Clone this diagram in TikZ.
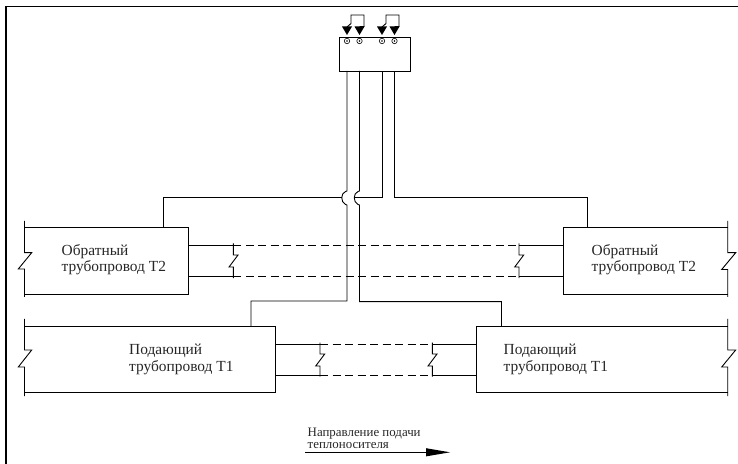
\documentclass[tikz,border=0pt]{standalone}
\usepackage{fontspec}
\setmainfont{Liberation Serif}
\tikzset{
  x=1bp,y=-1bp,
  ln/.style={line width=0.9bp,line join=miter},
  dsh/.style={ln,dash pattern=on 8bp off 4.5bp},
  lab/.style={anchor=base west,inner sep=0pt,font=\fontsize{15.4bp}{17bp}\selectfont,text=black!85},
  small/.style={anchor=base west,inner sep=0pt,font=\fontsize{12.9bp}{14bp}\selectfont,text=black!85},
  tri/.style={fill=black,draw=none},
  term/.style={circle,draw,line width=0.6bp,inner sep=0pt,minimum size=5.4bp,fill=white},
  dot/.style={circle,fill=black,inner sep=0pt,minimum size=1.6bp}
}
\newcommand{\brk}[3]{\draw[ln] (#1,#2-1.5) -- (#1,#2+10) -- ++(4.7,0) -- ++(-9,12) -- ++(4.3,0) -- (#1,#3+1.5);}
\newcommand{\hop}[1]{-- (#1,191) -- (#1-1.5,191.5) .. controls (#1-6.5,193.5) and (#1-6.5,202) .. (#1-1.5,204.5) -- (#1,205)}
\begin{document}
\begin{tikzpicture}
\useasboundingbox (0,0) rectangle (738,464);
% frame
\draw[ln,line width=1.1bp] (6,464) -- (6,6.5) -- (738,6.5);
% control box
\node[draw,line width=0.9bp,minimum width=71bp,minimum height=34bp,inner sep=0pt] (ctl) at (374.5,54) {};
\foreach \n/\x in {a/347,b/359.5,c/382,d/394.5}{
  \coordinate (\n) at (\x,71);
  \node[term] at (\x,41) {};
  \node[dot] at (\x,41) {};
  \fill[tri] (\x-5,26.5) -- (\x+5,26.5) -- (\x,35) -- cycle;
}
\draw[ln] (347,27) -- (351,23.5) -- (351,15) -- (364,15) -- (364,26.5) -- (359.5,26.5);
\draw[ln] (382,27) -- (386,23.5) -- (386,15) -- (399,15) -- (399,26.5) -- (394.5,26.5);
% return pipe T2 left
\draw[ln] (24.5,221) -- (24.5,252.7) -- (31.7,252.7) -- (18.3,269) -- (24.5,269) -- (24.5,297);
\draw[ln] (24.5,227.3) -- (188.6,227.3) -- (188.6,294.3) -- (24.5,294.3);
\node[lab] (t2ltxt) at (61.5,256) {Обратный};
\node[lab] (t2ltxtb) at (61.5,271.7) {трубопровод Т2};
% return pipe T2 right
\draw[ln] (727.7,221) -- (727.7,252.7) -- (735.7,252.7) -- (721.7,269.5) -- (727.7,269.5) -- (727.7,297);
\draw[ln] (727.7,227.3) -- (563,227.3) -- (563,294.3) -- (727.7,294.3);
\node[lab] (t2rtxt) at (591.5,256) {Обратный};
\node[lab] (t2rtxtb) at (591.5,271.7) {трубопровод Т2};
% supply pipe T1 left
\draw[ln] (24.5,319) -- (24.5,350) -- (31.7,350) -- (18.3,367) -- (24.5,367) -- (24.5,396);
\draw[ln] (24.5,326) -- (275.3,326) -- (275.3,392.7) -- (24.5,392.7);
\node[lab] (t1ltxt) at (129,355) {Подающий};
\node[lab] (t1ltxtb) at (129,371) {трубопровод Т1};
% supply pipe T1 right
\draw[ln] (727.7,319) -- (727.7,350) -- (735.7,350) -- (721.7,367) -- (727.7,367) -- (727.7,396);
\draw[ln] (727.7,326) -- (476.7,326) -- (476.7,392.7) -- (727.7,392.7);
\node[lab] (t1rtxt) at (503.5,355) {Подающий};
\node[lab] (t1rtxtb) at (503.5,371) {трубопровод Т1};
% T2 links
\draw[ln] (188.6,245) -- (233.3,245);
\draw[ln] (188.6,276.7) -- (233.3,276.7);
\draw[dsh] (233.3,245) -- (519,245);
\draw[dsh] (233.3,276.7) -- (519,276.7);
\draw[ln] (519,245) -- (563,245);
\draw[ln] (519,276.7) -- (563,276.7);
\brk{233.3}{245}{276.7}
\brk{519}{245}{276.7}
% T1 links
\draw[ln] (275.3,344) -- (320,344);
\draw[ln] (275.3,375) -- (320,375);
\draw[dsh] (320,344) -- (432.3,344);
\draw[dsh] (320,375) -- (432.3,375);
\draw[ln] (432.3,344) -- (476.7,344);
\draw[ln] (432.3,375) -- (476.7,375);
\brk{320}{344}{375}
\brk{432.3}{344}{375}
% risers
\draw[ln] (a) \hop{347} -- (347,301) -- (251,301) -- (251,326);
\draw[ln] (b) \hop{359.5} -- (359.5,301.7) -- (501.5,301.7) -- (501.5,326);
\draw[ln] (c) -- (382,197.7) -- (354.5,197.7);
\draw[ln] (342,197.7) -- (163.5,197.7) -- (163.5,227.3);
\draw[ln] (d) -- (394.5,197.7) -- (587.7,197.7) -- (587.7,227.3);
% direction
\node[small] (dirA) at (307.5,436.5) {Направление подачи};
\node[small] (dirB) at (307.5,448) {теплоносителя};
\draw[ln] (305,452.3) -- (430,452.3);
\fill[black] (426,448.2) -- (450,452.3) -- (426,456.4) -- cycle;
\end{tikzpicture}
\end{document}
